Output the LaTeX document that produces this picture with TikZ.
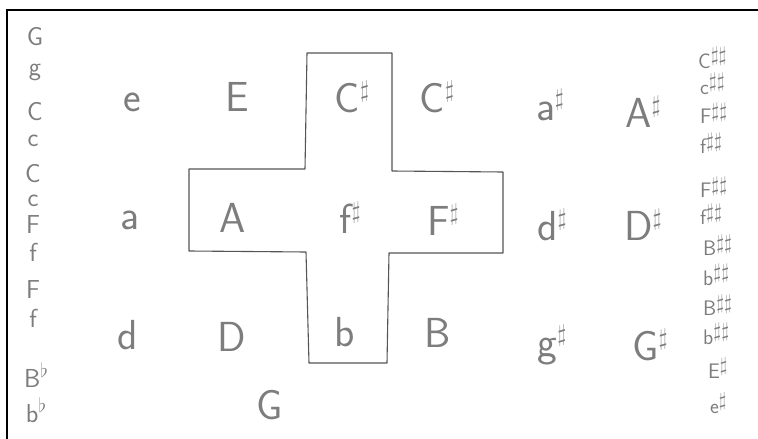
\documentclass[tikz,border=0pt]{standalone}
\usepackage{fontspec}
\definecolor{pencil}{RGB}{125,125,125}
\definecolor{lead}{RGB}{85,85,85}
\newcommand\shp{\raisebox{0.35em}{\scalebox{0.95}{$\sharp$}}}
\newcommand\dshp{\raisebox{0.3em}{\scalebox{1.0}{$\sharp\sharp$}}}
\newcommand\flt{\raisebox{0.38em}{\scalebox{0.8}{$\flat$}}}
\begin{document}
\begin{tikzpicture}[x=1pt,y=-1pt,
  hand/.style={text=pencil, font=\sffamily\fontsize{42}{42}\selectfont, inner sep=0pt},
  side/.style={text=pencil, font=\sffamily\fontsize{26}{26}\selectfont, inner sep=0pt},
  rside/.style={text=pencil, font=\sffamily\fontsize{21}{21}\selectfont, inner sep=0pt, anchor=west},
  cross/.style={draw=lead, line width=1.1pt, line join=round},
  frame/.style={draw=black, line width=2pt}]
\useasboundingbox (0,0) rectangle (758,439);
\fill[white] (0,0) rectangle (758,439);
% frame
\coordinate (fb) at (7,439);
\coordinate (ftl) at (7,10);
\coordinate (fr) at (758,10);
\draw[frame] (fb) -- (ftl) -- (fr);
% cross outline
\coordinate (c1) at (307,53);
\coordinate (c2) at (392,53);
\coordinate (c3) at (392,171);
\coordinate (c4) at (503,172);
\coordinate (c5) at (503,253);
\coordinate (c6) at (389,253);
\coordinate (c7) at (387,363);
\coordinate (c8) at (309,363);
\coordinate (c9) at (306,252);
\coordinate (c10) at (189,251);
\coordinate (c11) at (189,169);
\coordinate (c12) at (305,169);
\draw[cross] (c1) -- (c2) -- (c3) -- (c4) -- (c5) -- (c6) -- (c7) -- (c8) -- (c9) -- (c10) -- (c11) -- (c12) -- cycle;
% grid row 1
\node[hand] (e1) at (132,102) {e};
\node[hand] (E1) at (237,97) {E};
\node[hand] (Cs1) at (352,97) {C\shp};
\node[hand] (Cs2) at (437,97) {C\shp};
\node[hand] (as1) at (550,105) {a\shp};
\node[hand] (As1) at (643,112) {A\shp};
% grid row 2
\node[hand] (a2) at (130,220) {a};
\node[hand] (A2) at (233,218) {A};
\node[hand] (fs2) at (350,218) {f\shp};
\node[hand] (Fs2) at (443,220) {F\shp};
\node[hand] (ds2) at (552,225) {d\shp};
\node[hand] (Ds2) at (643,225) {D\shp};
% grid row 3
\node[hand] (d3) at (128,335) {d};
\node[hand] (D3) at (232,337) {D};
\node[hand] (b3) at (345,332) {b};
\node[hand] (B3) at (438,333) {B};
\node[hand] (gs3) at (552,345) {g\shp};
\node[hand] (Gs3) at (650,345) {G\shp};
% bottom
\node[hand] (G4) at (270,405) {G};
% left column
\node[side] (L1) at (35,37) {G};
\node[side] (L2) at (35,72) {g};
\node[side] (L3) at (35,112) {C};
\node[side] (L4) at (33,141) {c};
\node[side] (L5) at (33,174) {C};
\node[side] (L6) at (33,201) {c};
\node[side] (L7) at (33,225) {F};
\node[side] (L8) at (33,252) {f};
\node[side] (L9) at (33,290) {F};
\node[side] (L10) at (33,318) {f};
\node[side] (L11) at (36,375) {B\flt};
\node[side] (L12) at (36,410) {b\flt};
% right column
\node[rside] (R1) at (698,58) {C\dshp};
\node[rside] (R2) at (700,84) {c\dshp};
\node[rside] (R3) at (700,113) {F\dshp};
\node[rside] (R4) at (700,143) {f\dshp};
\node[rside] (R5) at (700,187) {F\dshp};
\node[rside] (R6) at (700,214) {f\dshp};
\node[rside] (R7) at (703,245) {B\dshp};
\node[rside] (R8) at (703,275) {b\dshp};
\node[rside] (R9) at (703,305) {B\dshp};
\node[rside] (R10) at (703,334) {b\dshp};
\node[rside] (R11) at (708,368) {E\shp};
\node[rside] (R12) at (710,403) {e\shp};
\end{tikzpicture}
\end{document}
